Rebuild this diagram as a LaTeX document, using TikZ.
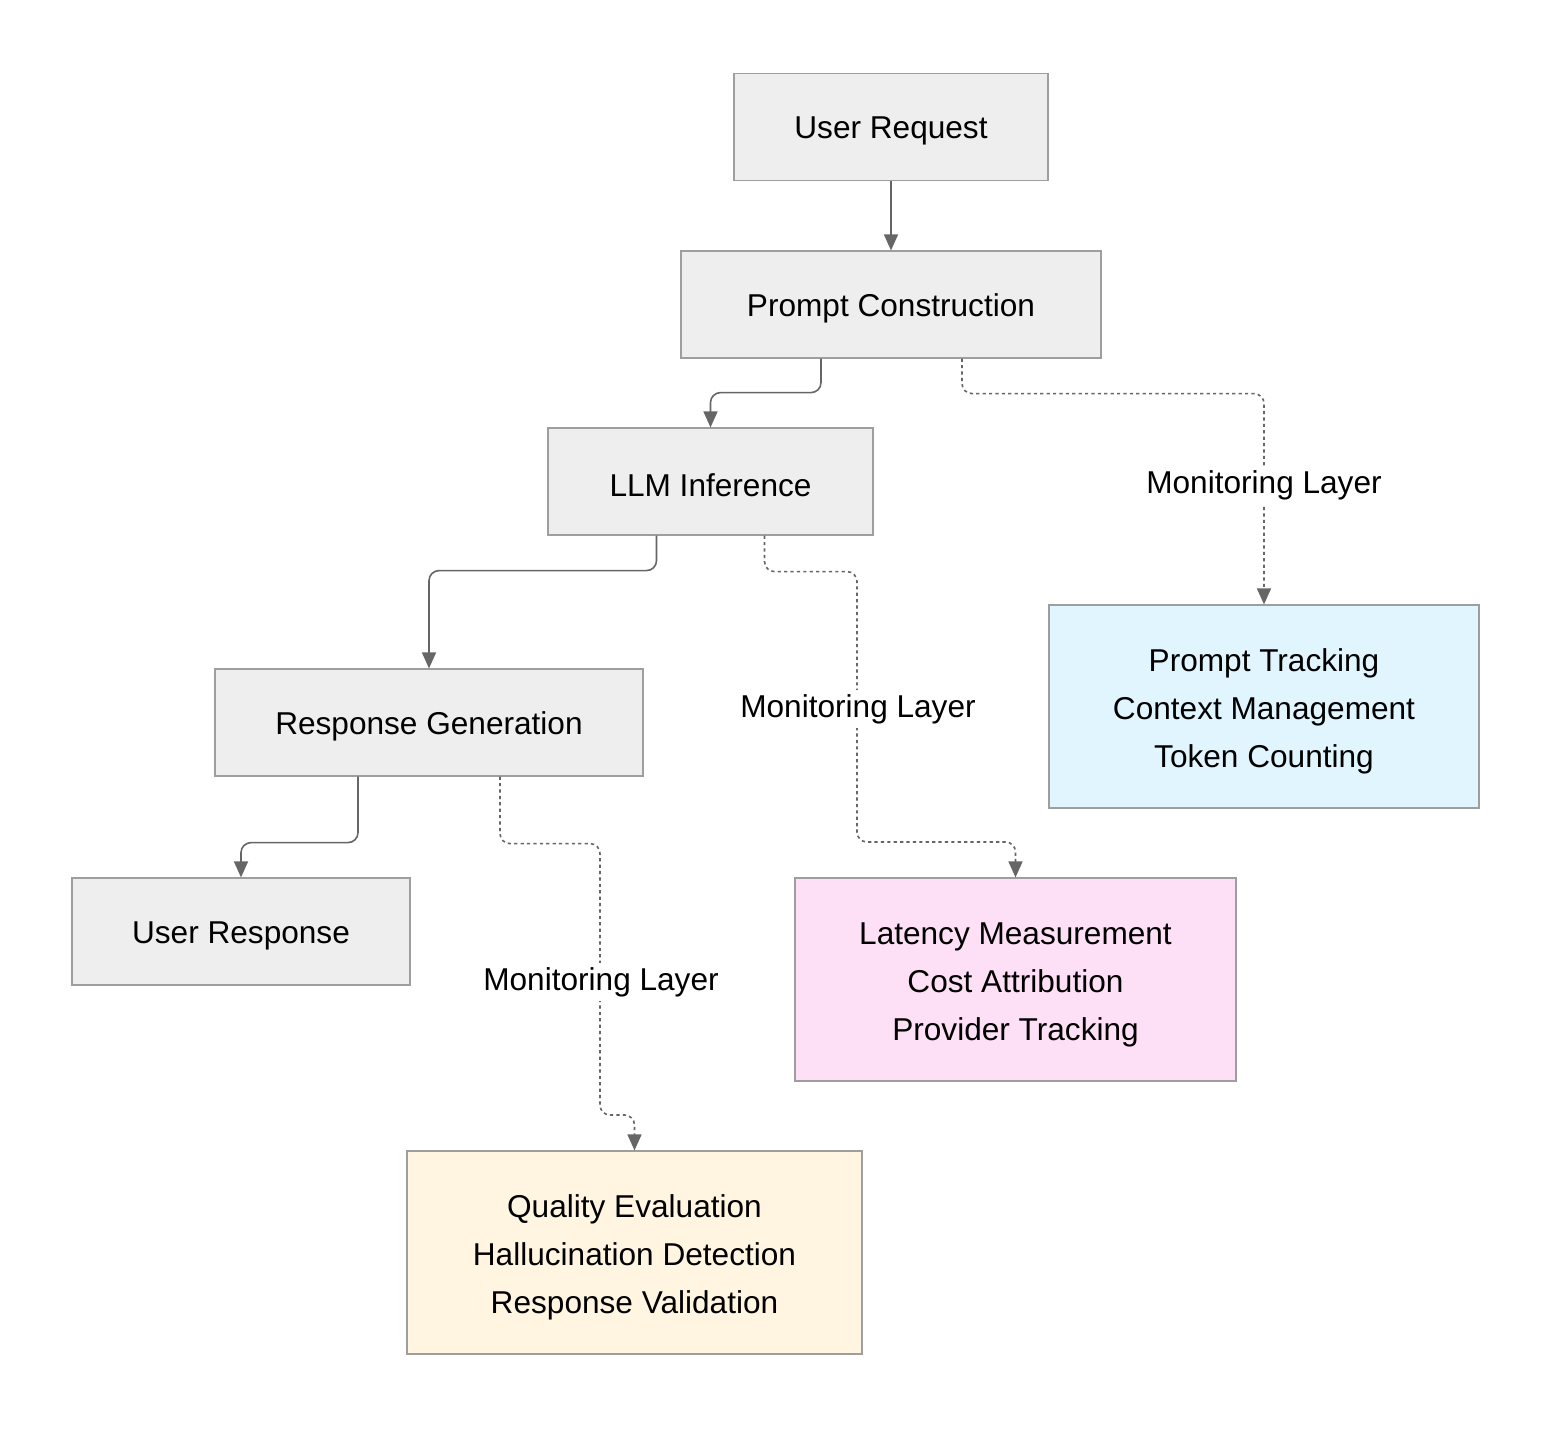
\documentclass[tikz,border=0pt]{standalone}
\usepackage{fontspec}
\setmainfont{Liberation Sans}
\usetikzlibrary{arrows.meta}
\definecolor{boxgray}{HTML}{EEEEEE}
\definecolor{boxline}{HTML}{9E9E9E}
\definecolor{boxblue}{HTML}{E1F5FE}
\definecolor{boxpink}{HTML}{FDE0F5}
\definecolor{boxyellow}{HTML}{FFF5E1}
\definecolor{linkgray}{HTML}{666666}
\tikzset{
  stage/.style={draw=boxline, fill=boxgray, line width=0.6pt, minimum height=53.5pt, inner sep=0pt, font=\fontsize{15.8}{24}\selectfont, execute at begin node={\rule{0pt}{15pt}}},
  monitor/.style={stage, minimum height=101.5pt, align=center, execute at begin node={}},
  flow/.style={-{Triangle[width=7pt,length=8pt]}, draw=linkgray, line width=0.8pt, rounded corners=5pt},
  watch/.style={flow, dash pattern=on 1.6pt off 1.6pt},
  tag/.style={fill=white, inner sep=2pt, font=\fontsize{15.8}{24}\selectfont}
}
\begin{document}
\begin{tikzpicture}[x=0.5pt,y=-0.5pt]
\useasboundingbox[fill=white] (0,0) rectangle (1548,1430);
% main stages
\node[stage, minimum width=157pt] (ur) at (891,127) {User Request};
\node[stage, minimum width=210pt] (pc) at (891,304.5) {Prompt Construction};
\node[stage, minimum width=162.5pt] (llm) at (710.5,481.5) {LLM Inference};
\node[stage, minimum width=214pt] (rg) at (429,722.5) {Response Generation};
\node[stage, minimum width=169pt] (ures) at (241,931.5) {User Response};
% monitoring boxes
\node[monitor, fill=boxblue, minimum width=215pt] (pt) at (1264,706.5) {\rule{0pt}{16.5pt}Prompt Tracking\\Context Management\\Token Counting};
\node[monitor, fill=boxpink, minimum width=220.5pt] (lat) at (1015.5,979.5) {\rule{0pt}{16.5pt}Latency Measurement\\Cost Attribution\\Provider Tracking};
\node[monitor, fill=boxyellow, minimum width=227.5pt] (qe) at (634.5,1252.5) {\rule{0pt}{16.5pt}Quality Evaluation\\Hallucination Detection\\Response Validation};
\coordinate (k1) at (857,842);
\coordinate (k2) at (600,1115);
% request path
\draw[flow] (ur) -- (pc);
\draw[flow] ([xshift=-35pt]pc.south) -- ++(0,34) -| (llm.north);
\draw[flow] ([xshift=-27pt]llm.south) -- ++(0,35) -| (rg.north);
\draw[flow] ([xshift=-35.5pt]rg.south) -- ++(0,66) -| (ures.north);
% monitoring links
\draw[watch] ([xshift=35.5pt]pc.south) -- ++(0,35) -| (pt.north);
\draw[watch] ([xshift=27pt]llm.south) -- ++(0,36) -| (k1) -| (lat.north);
\draw[watch] ([xshift=35.5pt]rg.south) -- ++(0,67) -| (k2) -| (qe.north);
\node[tag] (m1) at (1264,485) {Monitoring Layer};
\node[tag] (m2) at (858,709) {Monitoring Layer};
\node[tag] (m3) at (601,982) {Monitoring Layer};
\end{tikzpicture}
\end{document}
